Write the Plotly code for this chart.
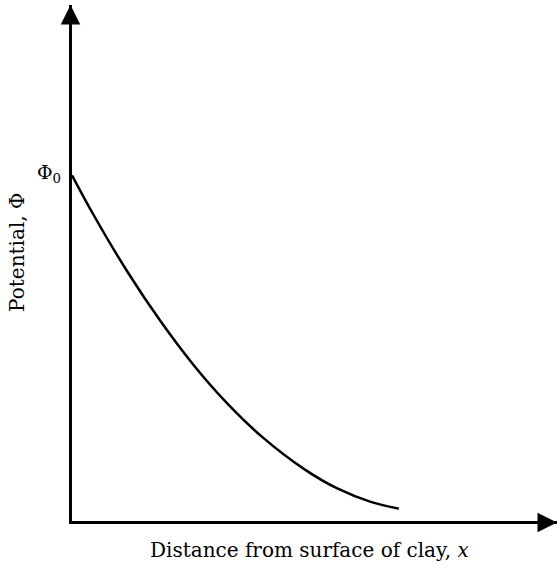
import plotly.graph_objects as go

# Curve values (arbitrary units, axes 0..100)
distance = [0.0, 4.4, 11.3, 18.2, 25.1, 32.0, 39.2, 47.8, 54.7, 61.6, 67.4]
potential = [67.0, 59.4, 48.5, 38.8, 30.2, 22.8, 16.3, 10.1, 6.3, 3.7, 2.4]

phi0_label = "Φ<sub>0</sub>"
x_title = "Distance from surface of clay, <i>x</i>"
y_title = "Potential, Φ"

serif = "DejaVu Serif, Liberation Serif, serif"

fig = go.Figure()
fig.add_trace(go.Scatter(
    x=distance, y=potential, mode="lines",
    line=dict(color="black", width=2.5, shape="spline", smoothing=1.0),
    hoverinfo="skip", showlegend=False,
))

fig.update_layout(
    width=558, height=569,
    margin=dict(l=72, r=1, t=5, b=48),
    paper_bgcolor="white", plot_bgcolor="white",
    showlegend=False,
    xaxis=dict(range=[0, 100], showline=True, linecolor="black", linewidth=3,
               showgrid=False, zeroline=False, showticklabels=False, ticks=""),
    yaxis=dict(range=[0, 100], showline=True, linecolor="black", linewidth=3,
               showgrid=False, zeroline=False, showticklabels=False, ticks=""),
    font=dict(family=serif, color="black"),
)

annotations = [
    # y-axis arrowhead
    dict(xref="paper", yref="paper", x=0, y=1, ax=0, ay=40, text="",
         showarrow=True, arrowhead=2, arrowsize=1.3, arrowwidth=3, arrowcolor="black",
         xshift=-1.5),
    # x-axis arrowhead
    dict(xref="paper", yref="paper", x=1, y=0, ax=-40, ay=0, text="",
         showarrow=True, arrowhead=2, arrowsize=1.3, arrowwidth=3, arrowcolor="black",
         yshift=-1.5),
    # Phi0 label
    dict(xref="x", yref="y", x=distance[0], y=potential[0], text=phi0_label,
         showarrow=False, xanchor="right", yanchor="middle", xshift=-9, yshift=2,
         font=dict(family=serif, size=19)),
    # y title
    dict(xref="paper", yref="paper", x=-0.115, y=0.52, text=y_title, textangle=-90,
         showarrow=False, xanchor="center", yanchor="middle",
         font=dict(family=serif, size=20)),
    # x title
    dict(xref="paper", yref="paper", x=0.49, y=0, text=x_title,
         showarrow=False, xanchor="center", yanchor="top", yshift=-15,
         font=dict(family=serif, size=20)),
]
fig.update_layout(annotations=annotations)

fig.write_html("out.html", config={"displayModeBar": False},
               post_script="document.body.style.margin='0';")
